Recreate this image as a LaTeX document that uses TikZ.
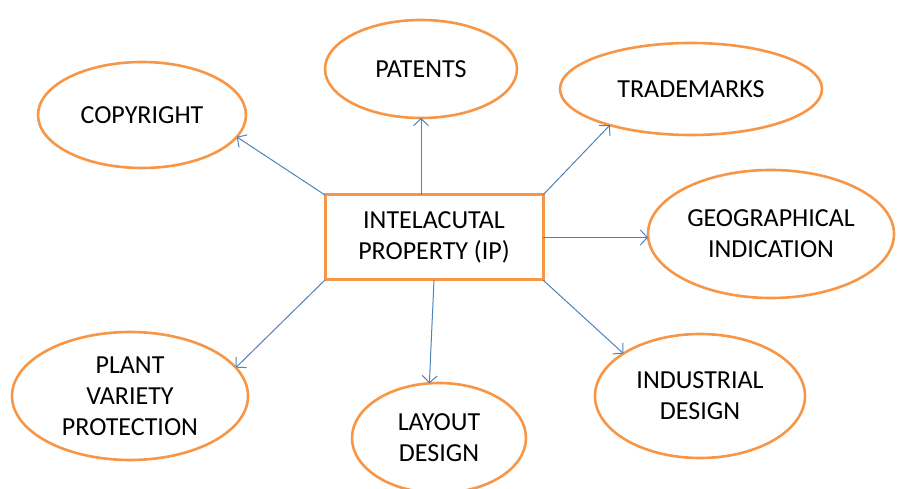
\documentclass[tikz,border=0pt]{standalone}
\usepackage{fontspec}
\setmainfont{Carlito}
\usetikzlibrary{shapes.geometric,arrows.meta}
\definecolor{iporange}{RGB}{247,150,70}
\definecolor{ipblue}{RGB}{79,129,189}
\tikzset{
    field/.style={ellipse,draw=iporange,line width=2.6pt,inner sep=0pt,outer sep=0pt,
        align=center,font=\fontsize{26}{31}\selectfont},
    core/.style={rectangle,draw=iporange,line width=3pt,inner sep=0pt,outer sep=0pt,
        minimum width=218pt,minimum height=85pt,align=center,font=\fontsize{26}{31}\selectfont},
    link/.style={draw=ipblue,line width=1pt,-{Straight Barb[length=7pt,width=15pt]}}
}
\begin{document}
\begin{tikzpicture}[x=1pt,y=-1pt]
        \useasboundingbox (0,0) rectangle (906,489);
        %% centre box
        \node[core] (ip) at (434,237.5) {INTELACUTAL\\PROPERTY (IP)};
        %% fields round it
        \node[field,minimum width=208pt,minimum height=106pt] (copy) at (142,115) {COPYRIGHT};
        \node[field,minimum width=192pt,minimum height=98pt]  (pat)  at (421,69)  {PATENTS};
        \node[field,minimum width=262pt,minimum height=92pt]  (tm)   at (691,89)  {TRADEMARKS};
        \node[field,minimum width=246pt,minimum height=128pt] (geo)  at (771,234) {GEOGRAPHICAL\\INDICATION};
        \node[field,minimum width=210pt,minimum height=124pt] (ind)  at (700,396) {INDUSTRIAL\\DESIGN};
        \node[field,minimum width=174pt,minimum height=110pt] (lay)  at (439,438) {LAYOUT\\DESIGN};
        \node[field,minimum width=236pt,minimum height=128pt] (pvp)  at (130,396) {PLANT\\VARIETY\\PROTECTION};
        %% arrows
        \draw[link] (ip.north west) -- (copy.-13);
        \draw[link] (ip.north -| pat.south) -- (pat.south);
        \draw[link] (ip.north east) -- (tm.204);
        \draw[link] (ip.east) -- (ip.east -| geo.west);
        \draw[link] (ip.south east) -- (ind.151);
        \draw[link] (ip.south) -- (lay.100);
        \draw[link] (ip.south west) -- (pvp.15);
    \end{tikzpicture}
\end{document}
